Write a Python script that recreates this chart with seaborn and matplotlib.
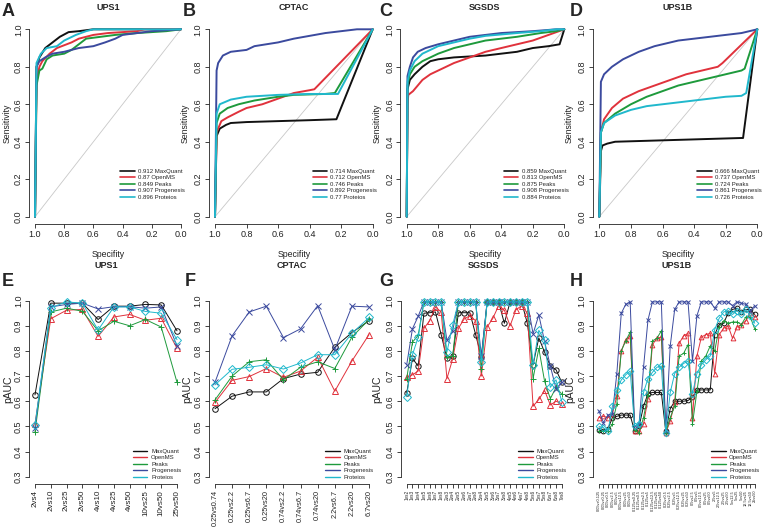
import numpy as np
import pandas as pd
import seaborn as sns
import matplotlib.pyplot as plt
from matplotlib.lines import Line2D

sns.set_theme(style='white')
plt.rcParams['font.family'] = ['Liberation Sans', 'DejaVu Sans']

tools = ['MaxQuant', 'OpenMS', 'Peaks', 'Progenesis', 'Proteios']
colors = ['#111111', '#E0323C', '#1E9A3C', '#3B4A9E', '#20B8CC']
markers = ['o', '^', '+', 'x', 'D']
chance = [1.0, 0.0]

# ---- ROC curves: (specificity, sensitivity)
ups1_mq = [(1, 0), (0.99, 0.8), (0.97, 0.85), (0.93, 0.9), (0.88, 0.93), (0.83, 0.96), (0.77, 0.985), (0.7, 0.99), (0.6, 1.0), (0, 1)]
ups1_om = [(1, 0), (0.99, 0.72), (0.97, 0.8), (0.95, 0.83), (0.9, 0.87), (0.85, 0.9), (0.75, 0.93), (0.7, 0.95), (0.6, 0.97), (0.5, 0.98), (0.3, 0.99), (0.25, 1.0), (0, 1)]
ups1_pk = [(1, 0), (0.99, 0.7), (0.97, 0.78), (0.95, 0.79), (0.92, 0.84), (0.88, 0.86), (0.8, 0.87), (0.75, 0.89), (0.7, 0.92), (0.65, 0.95), (0.55, 0.96), (0.45, 0.97), (0.3, 0.98), (0.1, 0.99), (0, 1)]
ups1_pg = [(1, 0), (0.99, 0.8), (0.97, 0.83), (0.93, 0.85), (0.88, 0.87), (0.8, 0.88), (0.7, 0.9), (0.6, 0.91), (0.52, 0.93), (0.45, 0.95), (0.4, 0.97), (0.3, 0.98), (0.2, 0.99), (0, 1)]
ups1_pt = [(1, 0), (0.99, 0.82), (0.96, 0.87), (0.92, 0.9), (0.85, 0.91), (0.8, 0.94), (0.72, 0.97), (0.65, 0.99), (0.6, 1.0), (0, 1)]
auc_ups1 = ['0.912', '0.87', '0.849', '0.907', '0.896']

cptac_mq = [(1, 0), (0.99, 0.43), (0.97, 0.47), (0.93, 0.49), (0.9, 0.5), (0.8, 0.505), (0.6, 0.51), (0.4, 0.515), (0.23, 0.52), (0, 1)]
cptac_om = [(1, 0), (0.99, 0.45), (0.96, 0.51), (0.92, 0.53), (0.85, 0.56), (0.8, 0.58), (0.7, 0.6), (0.6, 0.63), (0.5, 0.66), (0.4, 0.675), (0.37, 0.68), (0, 1)]
cptac_pk = [(1, 0), (0.99, 0.5), (0.97, 0.55), (0.92, 0.58), (0.85, 0.6), (0.75, 0.62), (0.6, 0.64), (0.5, 0.65), (0.3, 0.655), (0.24, 0.66), (0, 1)]
cptac_pg = [(1, 0), (0.99, 0.78), (0.98, 0.82), (0.95, 0.86), (0.9, 0.88), (0.8, 0.89), (0.75, 0.91), (0.6, 0.93), (0.5, 0.95), (0.4, 0.965), (0.3, 0.98), (0.2, 0.99), (0.1, 1.0), (0, 1)]
cptac_pt = [(1, 0), (0.99, 0.55), (0.97, 0.6), (0.9, 0.625), (0.8, 0.64), (0.6, 0.65), (0.4, 0.655), (0.22, 0.655), (0, 1)]
auc_cptac = ['0.714', '0.712', '0.746', '0.892', '0.77']

sgsds_mq = [(1, 0), (0.995, 0.68), (0.98, 0.73), (0.95, 0.76), (0.9, 0.8), (0.85, 0.83), (0.8, 0.84), (0.7, 0.85), (0.6, 0.855), (0.5, 0.86), (0.4, 0.87), (0.3, 0.88), (0.2, 0.9), (0.1, 0.91), (0.03, 0.92), (0, 1)]
sgsds_om = [(1, 0), (0.995, 0.6), (0.99, 0.65), (0.96, 0.67), (0.93, 0.7), (0.9, 0.73), (0.85, 0.76), (0.8, 0.78), (0.7, 0.82), (0.6, 0.85), (0.5, 0.88), (0.4, 0.9), (0.3, 0.92), (0.2, 0.94), (0.1, 0.97), (0, 1)]
sgsds_pk = [(1, 0), (0.995, 0.7), (0.98, 0.76), (0.95, 0.8), (0.9, 0.83), (0.8, 0.87), (0.7, 0.9), (0.6, 0.92), (0.5, 0.94), (0.4, 0.95), (0.3, 0.96), (0.15, 0.98), (0.05, 0.99), (0, 1)]
sgsds_pg = [(1, 0), (0.995, 0.75), (0.98, 0.8), (0.96, 0.85), (0.93, 0.88), (0.88, 0.9), (0.8, 0.92), (0.7, 0.94), (0.6, 0.96), (0.5, 0.97), (0.4, 0.98), (0.2, 0.99), (0.05, 1.0), (0, 1)]
sgsds_pt = [(1, 0), (0.995, 0.72), (0.98, 0.78), (0.95, 0.83), (0.9, 0.87), (0.8, 0.91), (0.7, 0.93), (0.6, 0.95), (0.5, 0.965), (0.3, 0.98), (0.15, 0.99), (0.05, 1.0), (0, 1)]
auc_sgsds = ['0.859', '0.813', '0.875', '0.908', '0.884']

ups1b_mq = [(1, 0), (0.99, 0.35), (0.98, 0.38), (0.95, 0.39), (0.9, 0.4), (0.7, 0.405), (0.5, 0.41), (0.3, 0.415), (0.1, 0.42), (0.09, 0.42), (0, 1)]
ups1b_om = [(1, 0), (0.99, 0.45), (0.97, 0.52), (0.92, 0.58), (0.85, 0.63), (0.75, 0.67), (0.65, 0.7), (0.55, 0.73), (0.45, 0.76), (0.35, 0.78), (0.25, 0.8), (0.22, 0.82), (0, 1)]
ups1b_pk = [(1, 0), (0.99, 0.45), (0.97, 0.5), (0.9, 0.55), (0.8, 0.6), (0.7, 0.64), (0.6, 0.67), (0.5, 0.7), (0.4, 0.72), (0.3, 0.74), (0.2, 0.76), (0.1, 0.78), (0.08, 0.79), (0, 1)]
ups1b_pg = [(1, 0), (0.99, 0.72), (0.97, 0.76), (0.92, 0.8), (0.85, 0.84), (0.75, 0.88), (0.65, 0.91), (0.5, 0.94), (0.4, 0.95), (0.2, 0.97), (0.1, 0.98), (0, 1)]
ups1b_pt = [(1, 0), (0.99, 0.45), (0.97, 0.5), (0.9, 0.54), (0.8, 0.57), (0.7, 0.59), (0.6, 0.6), (0.5, 0.61), (0.4, 0.62), (0.3, 0.63), (0.2, 0.64), (0.1, 0.645), (0.07, 0.66), (0, 1)]
auc_ups1b = ['0.666', '0.737', '0.724', '0.861', '0.726']

# ---- pAUC per pairwise comparison
conc_ups1 = ['2', '4', '10', '25', '50']
conc_cptac = ['0.25', '0.74', '2.2', '6.7', '20']
conc_sgsds = ['1', '2', '3', '4', '5', '6', '7', '8']
conc_ups1b = ['0.05', '0.125', '0.25', '0.5', '2.5', '5', '12.5', '25', '50']

pauc_ups1_mq = [0.625, 0.99, 0.99, 0.99, 0.925, 0.978, 0.978, 0.985, 0.983, 0.88]
pauc_ups1_om = [0.51, 0.928, 0.962, 0.965, 0.858, 0.935, 0.945, 0.922, 0.93, 0.81]
pauc_ups1_pk = [0.477, 0.955, 0.97, 0.958, 0.88, 0.918, 0.90, 0.925, 0.895, 0.675]
pauc_ups1_pg = [0.495, 0.975, 0.985, 0.99, 0.967, 0.976, 0.976, 0.97, 0.975, 0.82]
pauc_ups1_pt = [0.505, 0.972, 0.995, 0.99, 0.883, 0.975, 0.975, 0.957, 0.95, 0.845]

pauc_cptac_mq = [0.57, 0.62, 0.637, 0.637, 0.69, 0.708, 0.715, 0.815, 0.873, 0.92]
pauc_cptac_om = [0.595, 0.683, 0.698, 0.73, 0.695, 0.72, 0.775, 0.64, 0.76, 0.865]
pauc_cptac_pk = [0.605, 0.70, 0.757, 0.765, 0.685, 0.735, 0.757, 0.73, 0.855, 0.925]
pauc_cptac_pg = [0.675, 0.86, 0.955, 0.978, 0.853, 0.888, 0.98, 0.805, 0.978, 0.975]
pauc_cptac_pt = [0.665, 0.727, 0.735, 0.745, 0.728, 0.752, 0.785, 0.785, 0.87, 0.933]

pauc_sgsds_mq = [0.632, 0.77, 0.74, 0.95, 0.952, 0.955, 0.865, 0.77, 0.778, 0.952, 0.952, 0.952, 0.865, 0.775,
                 0.995, 0.995, 0.995, 0.91, 0.995, 0.995, 0.995, 0.91, 0.745, 0.852, 0.795, 0.74, 0.725, 0.675]
pauc_sgsds_om = [0.695, 0.705, 0.72, 0.89, 0.92, 0.975, 0.955, 0.69, 0.768, 0.89, 0.927, 0.94, 0.92, 0.70,
                 0.895, 0.93, 0.98, 0.962, 0.90, 0.963, 0.98, 0.95, 0.58, 0.607, 0.643, 0.585, 0.60, 0.59]
pauc_sgsds_pk = [0.69, 0.835, 0.862, 0.995, 0.995, 0.995, 0.995, 0.775, 0.778, 0.995, 0.995, 0.995, 0.995, 0.728,
                 0.995, 0.995, 0.995, 0.995, 0.995, 0.995, 0.995, 0.995, 0.69, 0.81, 0.68, 0.61, 0.655, 0.628]
pauc_sgsds_pg = [0.745, 0.888, 0.938, 0.995, 0.995, 0.995, 0.995, 0.842, 0.88, 0.995, 0.995, 0.995, 0.995, 0.78,
                 0.995, 0.995, 0.995, 0.995, 0.995, 0.995, 0.995, 0.995, 0.868, 0.943, 0.838, 0.74, 0.65, 0.675]
pauc_sgsds_pt = [0.618, 0.785, 0.855, 0.995, 0.995, 0.995, 0.995, 0.795, 0.903, 0.995, 0.995, 0.995, 0.995, 0.755,
                 0.995, 0.995, 0.995, 0.995, 0.995, 0.995, 0.995, 0.995, 0.745, 0.882, 0.843, 0.655, 0.685, 0.598]

pauc_ups1b_mq = [0.485, 0.48, 0.49, 0.535, 0.54, 0.545, 0.545, 0.545, 0.48, 0.50, 0.58, 0.63, 0.635, 0.635, 0.635,
                 0.48, 0.57, 0.60, 0.60, 0.60, 0.603, 0.615, 0.645, 0.645, 0.645, 0.645, 0.865, 0.905, 0.91, 0.95,
                 0.965, 0.97, 0.955, 0.965, 0.965, 0.945]
pauc_ups1b_om = [0.535, 0.54, 0.535, 0.55, 0.62, 0.80, 0.845, 0.86, 0.48, 0.48, 0.51, 0.61, 0.825, 0.85, 0.855,
                 0.475, 0.52, 0.595, 0.83, 0.86, 0.87, 0.535, 0.78, 0.855, 0.865, 0.87, 0.71, 0.865, 0.89, 0.90,
                 0.85, 0.895, 0.905, 0.92, 0.95, 0.935]
pauc_ups1b_pk = [0.48, 0.48, 0.48, 0.51, 0.59, 0.80, 0.84, 0.875, 0.485, 0.475, 0.535, 0.625, 0.84, 0.85, 0.88,
                 0.475, 0.535, 0.58, 0.78, 0.79, 0.825, 0.51, 0.64, 0.76, 0.78, 0.82, 0.80, 0.895, 0.92, 0.91,
                 0.915, 0.915, 0.905, 0.935, 0.935, 0.887]
pauc_ups1b_pg = [0.56, 0.515, 0.545, 0.55, 0.71, 0.95, 0.985, 0.995, 0.50, 0.51, 0.735, 0.923, 0.995, 0.995, 0.995,
                 0.48, 0.82, 0.965, 0.995, 0.995, 0.995, 0.76, 0.94, 0.995, 0.995, 0.995, 0.97, 0.995, 0.995, 0.995,
                 0.98, 0.995, 0.99, 0.985, 0.96, 0.98]
pauc_ups1b_pt = [0.50, 0.495, 0.48, 0.58, 0.645, 0.685, 0.705, 0.72, 0.50, 0.51, 0.635, 0.69, 0.715, 0.735, 0.74,
                 0.475, 0.635, 0.71, 0.735, 0.75, 0.76, 0.63, 0.71, 0.745, 0.765, 0.78, 0.885, 0.93, 0.955, 0.96,
                 0.945, 0.96, 0.945, 0.965, 0.94, 0.91]

roc_ticks = [0.0, 0.2, 0.4, 0.6, 0.8, 1.0]
pauc_ticks = [0.3, 0.4, 0.5, 0.6, 0.7, 0.8, 0.9, 1.0]

W, H = 764, 529
fig = plt.figure(figsize=(W / 100, H / 100), dpi=100)


def add_ax(l, r, t, b):
    return fig.add_axes([l / W, 1 - b / H, (r - l) / W, (b - t) / H])


def ftext(x, y, s, **kw):
    kw.setdefault('ha', 'center')
    kw.setdefault('va', 'center')
    fig.text(x / W, 1 - y / H, s, **kw)


def style_axes(ax, ylo, yhi):
    for s in ['top', 'right']:
        ax.spines[s].set_visible(False)
    for s in ['left', 'bottom']:
        ax.spines[s].set_linewidth(0.6)
        ax.spines[s].set_color('#222222')
    ax.spines['left'].set_bounds(ylo, yhi)
    ax.tick_params(bottom=True, left=True, direction='out', length=3, width=0.6,
                   color='#222222', labelsize=6.5, pad=1.5, labelcolor='#222222')
    ax.tick_params(axis='y', labelrotation=90)
    for lab in ax.get_yticklabels():
        lab.set_va('center')
    ax.set_xlabel('')
    ax.set_ylabel('')


def legend(ax, labels, anchor, lw):
    handles = [Line2D([], [], color=c, lw=lw) for c in colors]
    ax.legend(handles, labels, loc='lower right', bbox_to_anchor=anchor, frameon=False,
              fontsize=4.3, handlelength=2.4, handletextpad=0.6, labelspacing=0.22,
              borderaxespad=0, borderpad=0)


def roc_panel(box, curves, aucs):
    ax = add_ax(*box)
    sns.lineplot(x=chance, y=chance[::-1], sort=False, estimator=None, color='#C8C8C8', lw=0.6, ax=ax)
    for pts, col in zip(curves, colors):
        d = pd.DataFrame(pts, columns=['spec', 'sens'])
        sns.lineplot(data=d, x='spec', y='sens', sort=False, estimator=None, color=col, lw=1.4, ax=ax)
    ax.set_xlim(1.04, -0.04)
    ax.set_ylim(-0.04, 1.04)
    ax.set_xticks(roc_ticks)
    ax.set_xticklabels(['%.1f' % t for t in roc_ticks])
    ax.set_yticks(roc_ticks)
    ax.set_yticklabels(['%.1f' % t for t in roc_ticks])
    ax.spines['bottom'].set_bounds(0, 1)
    style_axes(ax, 0, 1)
    legend(ax, ['%s %s' % (a, t) for a, t in zip(aucs, tools)], (0.99, 0.12), 1.2)
    return ax


def pairs(conc):
    return ['%svs%s' % (a, b) for i, a in enumerate(conc) for b in conc[i + 1:]]


def pauc_panel(box, cats, series, xfs, ms):
    ax = add_ax(*box)
    for vals, col, mk in zip(series, colors, markers):
        sns.lineplot(x=cats, y=vals, sort=False, estimator=None, color=col, lw=0.7,
                     marker=mk, markersize=ms, markerfacecolor='none', markeredgecolor=col,
                     markeredgewidth=0.7, ax=ax)
    n = len(cats)
    pad = 0.04 * (n - 1)
    ax.set_xlim(-pad, n - 1 + pad)
    ax.set_ylim(0.3 - 0.028, 1.0 + 0.028)
    ax.set_xticks(range(n))
    ax.set_xticklabels(cats, rotation=90, fontsize=xfs)
    ax.set_yticks(pauc_ticks)
    ax.set_yticklabels(['%.1f' % t for t in pauc_ticks])
    ax.spines['bottom'].set_bounds(0, n - 1)
    style_axes(ax, 0.3, 1.0)
    ax.tick_params(axis='x', labelsize=xfs)
    legend(ax, tools, (0.99, 0.02), 1.0)
    return ax


# top row: ROC curves
top = (21.8, 224.2)
roc_panel((29.2, 186.8) + top, [ups1_mq, ups1_om, ups1_pk, ups1_pg, ups1_pt], auc_ups1)
roc_panel((208.7, 379.0) + top, [cptac_mq, cptac_om, cptac_pk, cptac_pg, cptac_pt], auc_cptac)
roc_panel((400.4, 570.6) + top, [sgsds_mq, sgsds_om, sgsds_pk, sgsds_pg, sgsds_pt], auc_sgsds)
roc_panel((593.0, 763.6) + top, [ups1b_mq, ups1b_om, ups1b_pk, ups1b_pg, ups1b_pt], auc_ups1b)

# bottom row: pAUC per comparison
bot = (293.6, 483.7)
pauc_panel((29.3, 182.7) + bot, pairs(conc_ups1),
           [pauc_ups1_mq, pauc_ups1_om, pauc_ups1_pk, pauc_ups1_pg, pauc_ups1_pt], 5.8, 4.0)
pauc_panel((208.8, 375.2) + bot, pairs(conc_cptac),
           [pauc_cptac_mq, pauc_cptac_om, pauc_cptac_pk, pauc_cptac_pg, pauc_cptac_pt], 5.3, 4.0)
pauc_panel((400.5, 568.0) + bot, pairs(conc_sgsds),
           [pauc_sgsds_mq, pauc_sgsds_om, pauc_sgsds_pk, pauc_sgsds_pg, pauc_sgsds_pt], 3.4, 3.8)
pauc_panel((592.8, 761.0) + bot, pairs(conc_ups1b),
           [pauc_ups1b_mq, pauc_ups1b_om, pauc_ups1b_pk, pauc_ups1b_pg, pauc_ups1b_pt], 2.8, 3.4)

titles = ['UPS1', 'CPTAC', 'SGSDS', 'UPS1B']
top_centers = [108, 294, 485, 678]
bot_centers = [106, 292, 484, 677]
letters_top = [(8, 'A'), (189, 'B'), (386, 'C'), (576, 'D')]
letters_bot = [(8, 'E'), (190, 'F'), (386, 'G'), (576, 'H')]
ylab_top = [7, 185, 377, 569]
ylab_bot = [8, 187, 377, 570]

for i in range(4):
    ftext(top_centers[i], 8, titles[i], fontsize=6.5, fontweight='bold')
    ftext(bot_centers[i], 265, titles[i], fontsize=6.5, fontweight='bold')
    ftext(top_centers[i], 255, 'Specifity', fontsize=6.3, color='#222222')
    ftext(ylab_top[i], 123, 'Sensitivity', fontsize=6.3, rotation=90, color='#222222')
    ftext(ylab_bot[i], 389, 'pAUC', fontsize=7.5, rotation=90, color='#222222')
    ftext(letters_top[i][0], 11, letters_top[i][1], fontsize=13, fontweight='bold')
    ftext(letters_bot[i][0], 281, letters_bot[i][1], fontsize=13, fontweight='bold')

fig.savefig('out.png', dpi=100)
